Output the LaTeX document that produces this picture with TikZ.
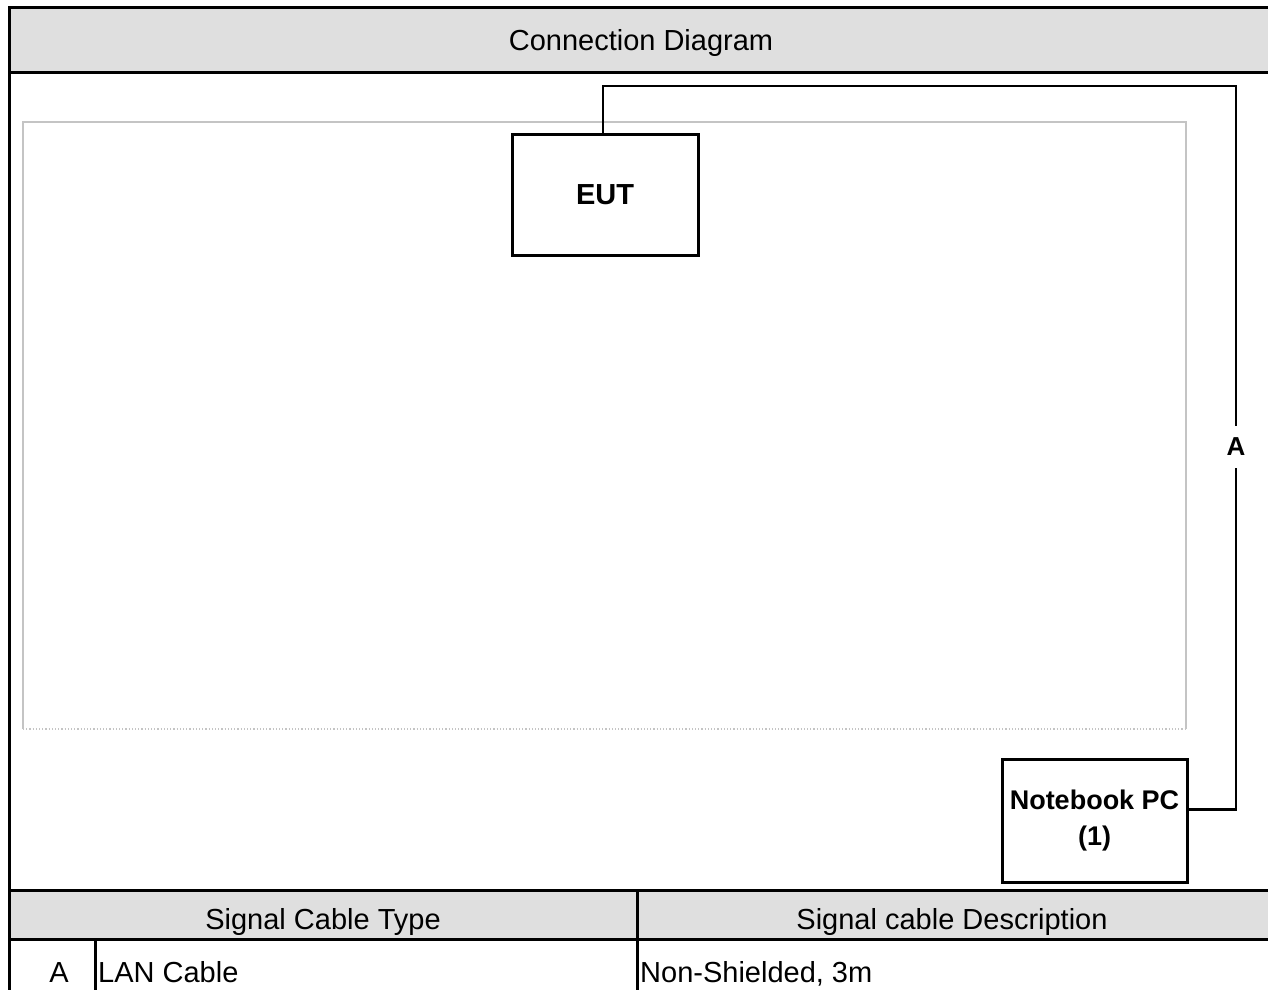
\documentclass[tikz,border=0pt]{standalone}
\usepackage{fontspec}
\setmainfont{Liberation Sans}
\definecolor{hdrgray}{HTML}{DFDFDF}
\definecolor{framegray}{HTML}{C4C4C4}
\tikzset{
  frame/.style={line width=3pt, black},
  hdr/.style={fill=hdrgray},
  tbltext/.style={font=\fontsize{29}{34}\selectfont, inner sep=0pt, anchor=base},
  device/.style={draw=black, line width=3pt, fill=white, align=center, inner sep=0pt},
  cable/.style={line width=2.5pt, black},
  area/.style={draw=framegray, line width=1.2pt},
}
\begin{document}
\begin{tikzpicture}[x=1pt,y=-1pt]
\useasboundingbox (0,0) rectangle (1268,990);
% header bands
\fill[hdr] (9,8) rectangle (1268,72);
\fill[hdr] (9,890) rectangle (1268,939);
% inner test area
\draw[area] (23,729) -- (23,122) -- (1186,122) -- (1186,729);
\draw[area, dotted] (23,729) -- (1186,729);
% frame lines
\draw[frame] (1268,8) -- (9,8) -- (9,990);
\draw[frame] (9,72) -- (1268,72);
\draw[frame] (9,890) -- (1268,890);
\draw[frame] (9,939) -- (1268,939);
\draw[frame] (637,890) -- (637,990);
\draw[frame] (95,939) -- (95,990);
% texts
\node[tbltext] (title) at (641,51) {Connection Diagram};
\node[tbltext] (hType) at (323,929) {Signal Cable Type};
\node[tbltext] (hDesc) at (952,929) {Signal cable Description};
\node[tbltext] (rA) at (59,982) {A};
\node[tbltext, anchor=base west] (rType) at (98,982) {LAN Cable};
\node[tbltext, anchor=base west] (rDesc) at (640,982) {Non-Shielded, 3m};
% devices
\node[device, minimum width=186pt, minimum height=121pt, font=\bfseries\fontsize{29}{34}\selectfont] (eut) at (605,195) {EUT};
\node[device, minimum width=185pt, minimum height=123pt, font=\bfseries\fontsize{27}{36}\selectfont] (pc) at (1094.5,820.5) {Notebook PC\\(1)};
% cable
\coordinate (ctop) at (1236,86);
\coordinate (pcport) at ([yshift=11pt]pc.east);
\draw[cable] ([xshift=-2pt]eut.north) |- (ctop) |- (pcport);
\node[fill=white, inner xsep=3pt, inner ysep=12pt, font=\bfseries\fontsize{26}{30}\selectfont] (lblA) at (1236,447) {A};
\end{tikzpicture}
\end{document}
